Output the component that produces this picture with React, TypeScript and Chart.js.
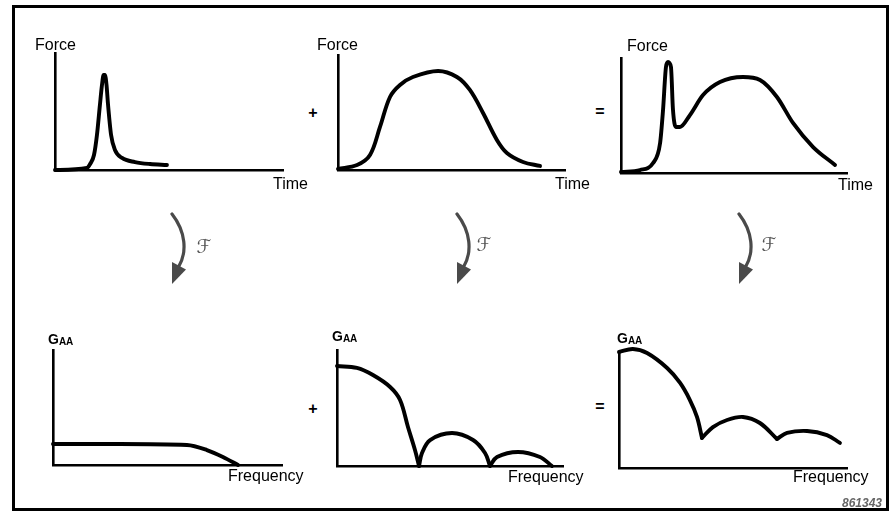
import React, { useEffect, useRef } from "react";
import { Chart, registerables } from "chart.js";

Chart.register(...registerables);

// ---- Time domain (Force vs Time) ----
const impulseTime = [0, 1.4, 1.54, 1.71, 1.84, 1.97, 2.06, 2.13, 2.19, 2.26, 2.32, 2.46, 2.63, 2.94, 3.51, 4.17, 4.91];
const impulseForce = [0, 0.17, 0.51, 1.28, 2.99, 5.56, 7.26, 8.12, 8.12, 7.26, 5.73, 2.99, 1.71, 1.03, 0.68, 0.51, 0.43];

const pulseTime = [0, 0.84, 1.41, 1.85, 2.29, 2.73, 3.3, 4.41, 5.24, 5.81, 6.39, 7.0, 7.44, 8.15, 8.9];
const pulseForce = [0.1, 0.43, 1.3, 3.74, 6.35, 7.39, 8.09, 8.61, 8.09, 6.96, 4.96, 2.61, 1.48, 0.7, 0.35];

const sumTime = [0, 0.84, 1.42, 1.73, 1.86, 1.99, 2.08, 2.21, 2.3, 2.43, 2.61, 3.05, 3.63, 4.38, 5.4, 6.15, 6.9, 7.61, 8.5, 9.47];
const sumForce = [0.09, 0.26, 0.87, 2.61, 5.48, 9.22, 9.65, 9.22, 5.48, 4.0, 4.0, 5.04, 6.78, 7.91, 8.35, 8.09, 6.61, 4.35, 2.26, 0.7];

// ---- Frequency domain (G_AA vs Frequency) ----
const impulseFreq = [0, 2.93, 5.85, 6.72, 7.42, 8.08];
const impulseGaa = [1.83, 1.83, 1.74, 1.3, 0.7, 0];

const pulseFreqMain = [0, 0.88, 1.59, 2.35, 2.79, 3.14, 3.45, 3.63];
const pulseGaaMain = [8.62, 8.45, 7.84, 6.81, 5.69, 3.36, 1.38, 0];
const pulseFreqLobe1 = [3.63, 3.76, 4.12, 5.09, 6.02, 6.55, 6.77];
const pulseGaaLobe1 = [0, 1.12, 2.24, 2.84, 2.24, 1.12, 0];
const pulseFreqLobe2 = [6.77, 7.08, 8.01, 8.98, 9.51];
const pulseGaaLobe2 = [0, 0.78, 1.21, 0.78, 0];

const sumFreqMain = [0, 0.61, 1.23, 2.11, 2.68, 3.11, 3.42, 3.64];
const sumGaaMain = [10.0, 10.26, 9.91, 8.62, 7.33, 5.86, 4.4, 2.59];
const sumFreqLobe1 = [3.64, 4.12, 4.74, 5.44, 6.18, 6.93];
const sumGaaLobe1 = [2.59, 3.53, 4.14, 4.4, 3.88, 2.5];
const sumFreqLobe2 = [6.93, 7.37, 8.25, 9.12, 9.69];
const sumGaaLobe2 = [2.5, 3.02, 3.19, 2.84, 2.16];

const PAD = 8;

type Series = { x: number[]; y: number[] };

function Panel(props: { ox: number; oy: number; xe: number; yt: number; series: Series[]; monotone?: boolean }) {
  const ref = useRef<HTMLCanvasElement>(null);
  const { ox, oy, xe, yt, series, monotone } = props;
  const w = xe - ox + PAD * 2;
  const h = oy - yt + PAD * 2;
  useEffect(() => {
    if (!ref.current) return;
    const axis = {
      type: "linear" as const,
      min: 0,
      max: 10,
      grid: { display: false, drawTicks: false },
      ticks: { display: false },
      border: { display: true, color: "#000", width: 2.6 },
    };
    const chart = new Chart(ref.current, {
      type: "line",
      data: {
        datasets: series.map((s) => ({
          data: s.x.map((x, i) => ({ x, y: s.y[i] })),
          borderColor: "#000",
          borderWidth: 3.9,
          pointRadius: 0,
          fill: false,
          tension: monotone ? 0.4 : 0.35,
          cubicInterpolationMode: (monotone ? "monotone" : "default") as any,
          clip: false as any,
          borderCapStyle: "round" as const,
          borderJoinStyle: "round" as const,
        })),
      },
      options: {
        responsive: false,
        animation: false,
        devicePixelRatio: 1,
        events: [],
        layout: { padding: PAD },
        plugins: { legend: { display: false }, tooltip: { enabled: false }, title: { display: false } },
        scales: { x: axis, y: axis },
      },
    });
    return () => chart.destroy();
  }, []);
  return (
    <canvas
      ref={ref}
      width={w}
      height={h}
      style={{ position: "absolute", left: ox - PAD, top: yt - PAD, width: w, height: h }}
    />
  );
}

const font = "'Liberation Sans', Arial, Helvetica, sans-serif";

function Label(props: { x: number; base: number; text: string }) {
  return (
    <div
      style={{
        position: "absolute",
        left: props.x,
        top: props.base - 13.5,
        fontFamily: font,
        fontSize: 16,
        lineHeight: "16px",
        whiteSpace: "nowrap",
        color: "#000",
      }}
    >
      {props.text}
    </div>
  );
}

function Gaa(props: { x: number; base: number }) {
  return (
    <div
      style={{
        position: "absolute",
        left: props.x,
        top: props.base - 11.8,
        fontFamily: font,
        fontSize: 14,
        lineHeight: "14px",
        fontWeight: "bold",
        whiteSpace: "nowrap",
        color: "#000",
      }}
    >
      G<span style={{ fontSize: 10, verticalAlign: "-1px" }}>AA</span>
    </div>
  );
}

function Sign(props: { cx: number; cy: number; text: string }) {
  return (
    <div
      style={{
        position: "absolute",
        left: props.cx - 10,
        top: props.cy - 10,
        width: 20,
        height: 20,
        display: "flex",
        alignItems: "center",
        justifyContent: "center",
        fontFamily: font,
        fontSize: 16,
        lineHeight: 1,
        fontWeight: "bold",
        color: "#000",
      }}
    >
      {props.text}
    </div>
  );
}

function Transform(props: { cx: number; cy: number }) {
  return (
    <div
      style={{
        position: "absolute",
        left: props.cx - 15,
        top: props.cy - 15,
        width: 30,
        height: 30,
        display: "flex",
        alignItems: "center",
        justifyContent: "center",
        fontFamily: "'DejaVu Sans', sans-serif",
        fontSize: 19,
        lineHeight: 1,
        color: "#555",
      }}
    >
      ℱ
    </div>
  );
}

const arrowOffsets = [0, 285, 567];

export default function App() {
  return (
    <div style={{ position: "absolute", left: 0, top: 0, width: 891, height: 512, background: "#fff", overflow: "hidden" }}>
      <div
        style={{
          position: "absolute",
          left: 12,
          top: 5,
          width: 877,
          height: 506,
          border: "3px solid #000",
          boxSizing: "border-box",
        }}
      />
      <Panel ox={55} oy={170} xe={283} yt={53} monotone series={[{ x: impulseTime, y: impulseForce }]} />
      <Panel ox={338} oy={170} xe={565} yt={55} series={[{ x: pulseTime, y: pulseForce }]} />
      <Panel ox={621} oy={173} xe={847} yt={58} monotone series={[{ x: sumTime, y: sumForce }]} />
      <Panel ox={53} oy={465} xe={282} yt={350} monotone series={[{ x: impulseFreq, y: impulseGaa }]} />
      <Panel
        ox={337}
        oy={466}
        xe={563}
        yt={350}
        series={[
          { x: pulseFreqMain, y: pulseGaaMain },
          { x: pulseFreqLobe1, y: pulseGaaLobe1 },
          { x: pulseFreqLobe2, y: pulseGaaLobe2 },
        ]}
      />
      <Panel
        ox={619}
        oy={468}
        xe={847}
        yt={352}
        series={[
          { x: sumFreqMain, y: sumGaaMain },
          { x: sumFreqLobe1, y: sumGaaLobe1 },
          { x: sumFreqLobe2, y: sumGaaLobe2 },
        ]}
      />

      <Label x={35} base={50} text="Force" />
      <Label x={273} base={189} text="Time" />
      <Label x={317} base={50} text="Force" />
      <Label x={555} base={189} text="Time" />
      <Label x={627} base={51} text="Force" />
      <Label x={838} base={190} text="Time" />
      <Sign cx={313} cy={113} text="+" />
      <Sign cx={600} cy={112} text="=" />

      <Gaa x={48} base={344} />
      <Gaa x={332} base={341} />
      <Gaa x={617} base={343} />
      <Label x={228} base={481} text="Frequency" />
      <Label x={508} base={482} text="Frequency" />
      <Label x={793} base={482} text="Frequency" />
      <Sign cx={313} cy={409} text="+" />
      <Sign cx={600} cy={407} text="=" />

      <svg width={891} height={512} style={{ position: "absolute", left: 0, top: 0, pointerEvents: "none" }}>
        {arrowOffsets.map((dx, i) => (
          <g key={i} transform={`translate(${dx},0)`}>
            <path d="M172,214 C186,232 187,252 179,266" stroke="#4a4a4a" strokeWidth={3.2} fill="none" strokeLinecap="round" />
            <path d="M172,262 L186,269.5 L172,284 Z" fill="#4a4a4a" />
          </g>
        ))}
      </svg>
      <Transform cx={204} cy={246} />
      <Transform cx={484} cy={244} />
      <Transform cx={769} cy={244} />

      <div
        style={{
          position: "absolute",
          left: 842,
          top: 497,
          fontFamily: font,
          fontSize: 12,
          lineHeight: "12px",
          fontWeight: "bold",
          fontStyle: "italic",
          color: "#666",
          whiteSpace: "nowrap",
        }}
      >
        861343
      </div>
    </div>
  );
}
